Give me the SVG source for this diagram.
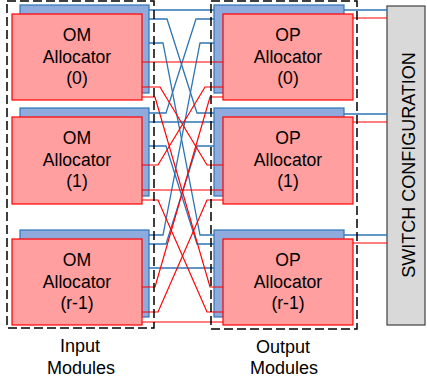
<svg xmlns="http://www.w3.org/2000/svg" width="427" height="385" viewBox="0 0 427 385">
<style>
.bg{fill:#fff}
.blk{fill:#8faadc;stroke:#2e75b6;stroke-width:1.2}
.alloc{fill:#ff9f9f;stroke:#ff0000;stroke-width:1.2}
.t{font-family:"Liberation Sans",Arial,sans-serif;font-size:17.6px;fill:#000;text-anchor:middle}
.lbl{font-family:"Liberation Sans",Arial,sans-serif;font-size:18px;fill:#000;text-anchor:middle}
.dash{fill:none;stroke:#000;stroke-width:1.5;stroke-dasharray:9,4}
.b{fill:none;stroke:#2e75b6;stroke-width:1.3}
.r{fill:none;stroke:#ff0000;stroke-width:1.2}
.sw{fill:#d9d9d9;stroke:#404040;stroke-width:1.2}
</style>
<rect class="bg" x="0" y="0" width="427" height="385"/>

<g id="om0">
<rect class="blk" x="20" y="5" width="129" height="88"/>
<rect class="alloc" x="12" y="14" width="130" height="86"/>
<text class="t" x="77" y="41">OM</text>
<text class="t" x="77" y="63">Allocator</text>
<text class="t" x="77" y="84">(0)</text>
</g>
<g id="om1">
<rect class="blk" x="20" y="108" width="129" height="88"/>
<rect class="alloc" x="12" y="117" width="130" height="87"/>
<text class="t" x="77" y="144">OM</text>
<text class="t" x="77" y="166">Allocator</text>
<text class="t" x="77" y="187">(1)</text>
</g>
<g id="om2">
<rect class="blk" x="20" y="230" width="129" height="87"/>
<rect class="alloc" x="12" y="239" width="130" height="86"/>
<text class="t" x="77" y="266">OM</text>
<text class="t" x="77" y="288">Allocator</text>
<text class="t" x="77" y="309">(r-1)</text>
</g>

<g id="op0">
<rect class="blk" x="214" y="5" width="130" height="88"/>
<rect class="alloc" x="223" y="14" width="130" height="86"/>
<text class="t" x="288" y="41">OP</text>
<text class="t" x="288" y="63">Allocator</text>
<text class="t" x="288" y="84">(0)</text>
</g>
<g id="op1">
<rect class="blk" x="214" y="108" width="130" height="88"/>
<rect class="alloc" x="223" y="117" width="130" height="87"/>
<text class="t" x="288" y="144">OP</text>
<text class="t" x="288" y="166">Allocator</text>
<text class="t" x="288" y="187">(1)</text>
</g>
<g id="op2">
<rect class="blk" x="214" y="230" width="130" height="87"/>
<rect class="alloc" x="223" y="239" width="130" height="86"/>
<text class="t" x="288" y="266">OP</text>
<text class="t" x="288" y="288">Allocator</text>
<text class="t" x="288" y="309">(r-1)</text>
</g>

<g id="switch">
<rect class="sw" x="387" y="6" width="38" height="319"/>
<text class="lbl" transform="translate(415,165) rotate(-90)">SWITCH CONFIGURATION</text>
</g>

<g id="connectors">
<!-- blue crossbar -->
<path class="b" d="M149,10H214"/>
<path class="b" d="M149,122H214"/>
<path class="b" d="M149,268H214"/>
<path class="b" d="M149,19H167L197,113H214"/>
<path class="b" d="M149,43H163L200,235H214"/>
<path class="b" d="M149,113H166L196,19H214"/>
<path class="b" d="M149,235H163L200,43H214"/>
<path class="b" d="M149,146H166L197,244H214"/>
<path class="b" d="M149,244H166L197,146H214"/>
<!-- red crossbar -->
<path class="r" d="M142,62H223"/>
<path class="r" d="M142,190H223"/>
<path class="r" d="M142,322H223"/>
<path class="r" d="M142,87H160L207,165H223"/>
<path class="r" d="M142,97H155L210,287H223"/>
<path class="r" d="M142,165H158L205,87H223"/>
<path class="r" d="M142,287H155L210,97H223"/>
<path class="r" d="M142,200H158L207,312H223"/>
<path class="r" d="M142,312H158L207,200H223"/>
<!-- to switch configuration -->
<path class="b" d="M344,10H387"/>
<path class="r" d="M353,18H387"/>
<path class="b" d="M344,114H387"/>
<path class="r" d="M353,122H387"/>
<path class="b" d="M344,235H387"/>
<path class="r" d="M353,243H387"/>
</g>

<g id="input-modules">
<rect class="dash" x="7" y="1" width="147" height="327"/>
<text class="lbl" x="80" y="352">Input</text>
<text class="lbl" x="81" y="374">Modules</text>
</g>
<g id="output-modules">
<rect class="dash" x="211" y="1" width="146" height="328"/>
<text class="lbl" x="283" y="353">Output</text>
<text class="lbl" x="284" y="374">Modules</text>
</g>
</svg>
